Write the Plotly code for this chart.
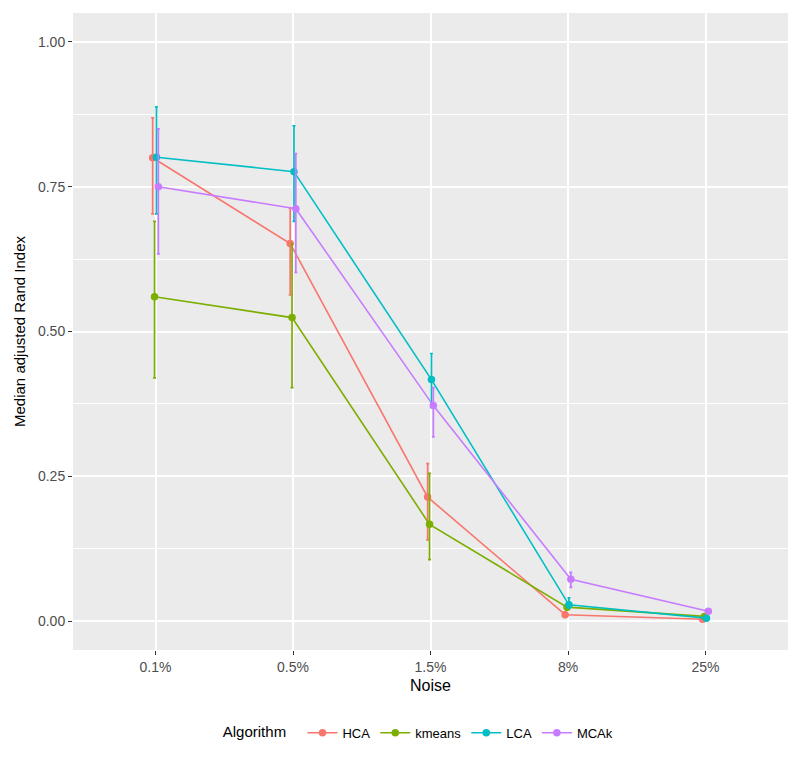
import plotly.graph_objects as go

noise_labels = ["0.1%", "0.5%", "1.5%", "8%", "25%"]
algorithms = ["HCA", "kmeans", "LCA", "MCAk"]
colors = ["#F8766D", "#7CAE00", "#00BFC4", "#C77CFF"]

hca_median = [0.800, 0.652, 0.214, 0.011, 0.003]
hca_low = [0.703, 0.563, 0.140, 0.007, 0.001]
hca_high = [0.869, 0.713, 0.272, 0.016, 0.005]

kmeans_median = [0.560, 0.524, 0.167, 0.024, 0.008]
kmeans_low = [0.420, 0.403, 0.106, 0.019, 0.005]
kmeans_high = [0.690, 0.652, 0.255, 0.030, 0.011]

lca_median = [0.801, 0.776, 0.417, 0.028, 0.005]
lca_low = [0.703, 0.690, 0.369, 0.022, 0.003]
lca_high = [0.888, 0.855, 0.462, 0.040, 0.008]

mcak_median = [0.750, 0.712, 0.372, 0.072, 0.017]
mcak_low = [0.634, 0.602, 0.318, 0.058, 0.013]
mcak_high = [0.850, 0.807, 0.403, 0.084, 0.021]

medians = [hca_median, kmeans_median, lca_median, mcak_median]
lows = [hca_low, kmeans_low, lca_low, mcak_low]
highs = [hca_high, kmeans_high, lca_high, mcak_high]

dodge_width = 0.055
n = len(algorithms)

fig = go.Figure()
for i, name in enumerate(algorithms):
    offset = (i - (n - 1) / 2) * dodge_width / n
    xs = [k + offset for k in range(len(noise_labels))]
    med = medians[i]
    up = [h - m for h, m in zip(highs[i], med)]
    dn = [m - l for m, l in zip(med, lows[i])]
    fig.add_trace(go.Scatter(
        x=xs, y=med, mode="lines+markers", name=name,
        line=dict(color=colors[i], width=1.6),
        marker=dict(color=colors[i], size=7.5),
        error_y=dict(type="data", symmetric=False, array=up, arrayminus=dn,
                     color=colors[i], thickness=1.7, width=1.5),
        customdata=[noise_labels[k] for k in range(len(noise_labels))],
        hovertemplate="%{customdata}: %{y:.3f}<extra>" + name + "</extra>",
    ))

# page body has an 8px margin, so the figure is sized/offset to compensate
fig.update_layout(
    width=784, height=744,
    margin=dict(l=65, r=4, t=5, b=97),
    paper_bgcolor="white",
    plot_bgcolor="#EBEBEB",
    font=dict(family="Liberation Sans, Arial, sans-serif", color="#4D4D4D", size=13),
    showlegend=True,
    legend=dict(
        orientation="h", x=0.485, xanchor="center", y=-0.13, yanchor="middle",
        title=dict(text="Algorithm  ", side="left", font=dict(size=15, color="#000000")),
        font=dict(size=13, color="#000000"),
        itemwidth=30,
    ),
)
fig.update_xaxes(
    range=[-0.6, 4.6], automargin=False,
    tickmode="array", tickvals=list(range(len(noise_labels))), ticktext=noise_labels,
    showgrid=True, gridcolor="white", gridwidth=2,
    zeroline=False, showline=False,
    ticks="outside", ticklen=4, tickcolor="#333333", tickwidth=1.2,
    tickfont=dict(size=14, color="#4D4D4D"),
    title=dict(text="Noise", font=dict(size=16, color="#000000"), standoff=6),
)
fig.update_yaxes(
    range=[-0.05, 1.05], automargin=False,
    tickmode="array", tickvals=[0, 0.25, 0.5, 0.75, 1.0],
    tickformat=".2f",
    showgrid=True, gridcolor="white", gridwidth=2,
    minor=dict(tickmode="array", tickvals=[0.125, 0.375, 0.625, 0.875],
               showgrid=True, gridcolor="white", gridwidth=1, ticks=""),
    zeroline=False, showline=False,
    ticks="outside", ticklen=4, tickcolor="#333333", tickwidth=1.2,
    tickfont=dict(size=14, color="#4D4D4D"),
    title=dict(text="Median adjusted Rand Index", font=dict(size=15, color="#000000"), standoff=8),
)

fig.write_html("out.html")
